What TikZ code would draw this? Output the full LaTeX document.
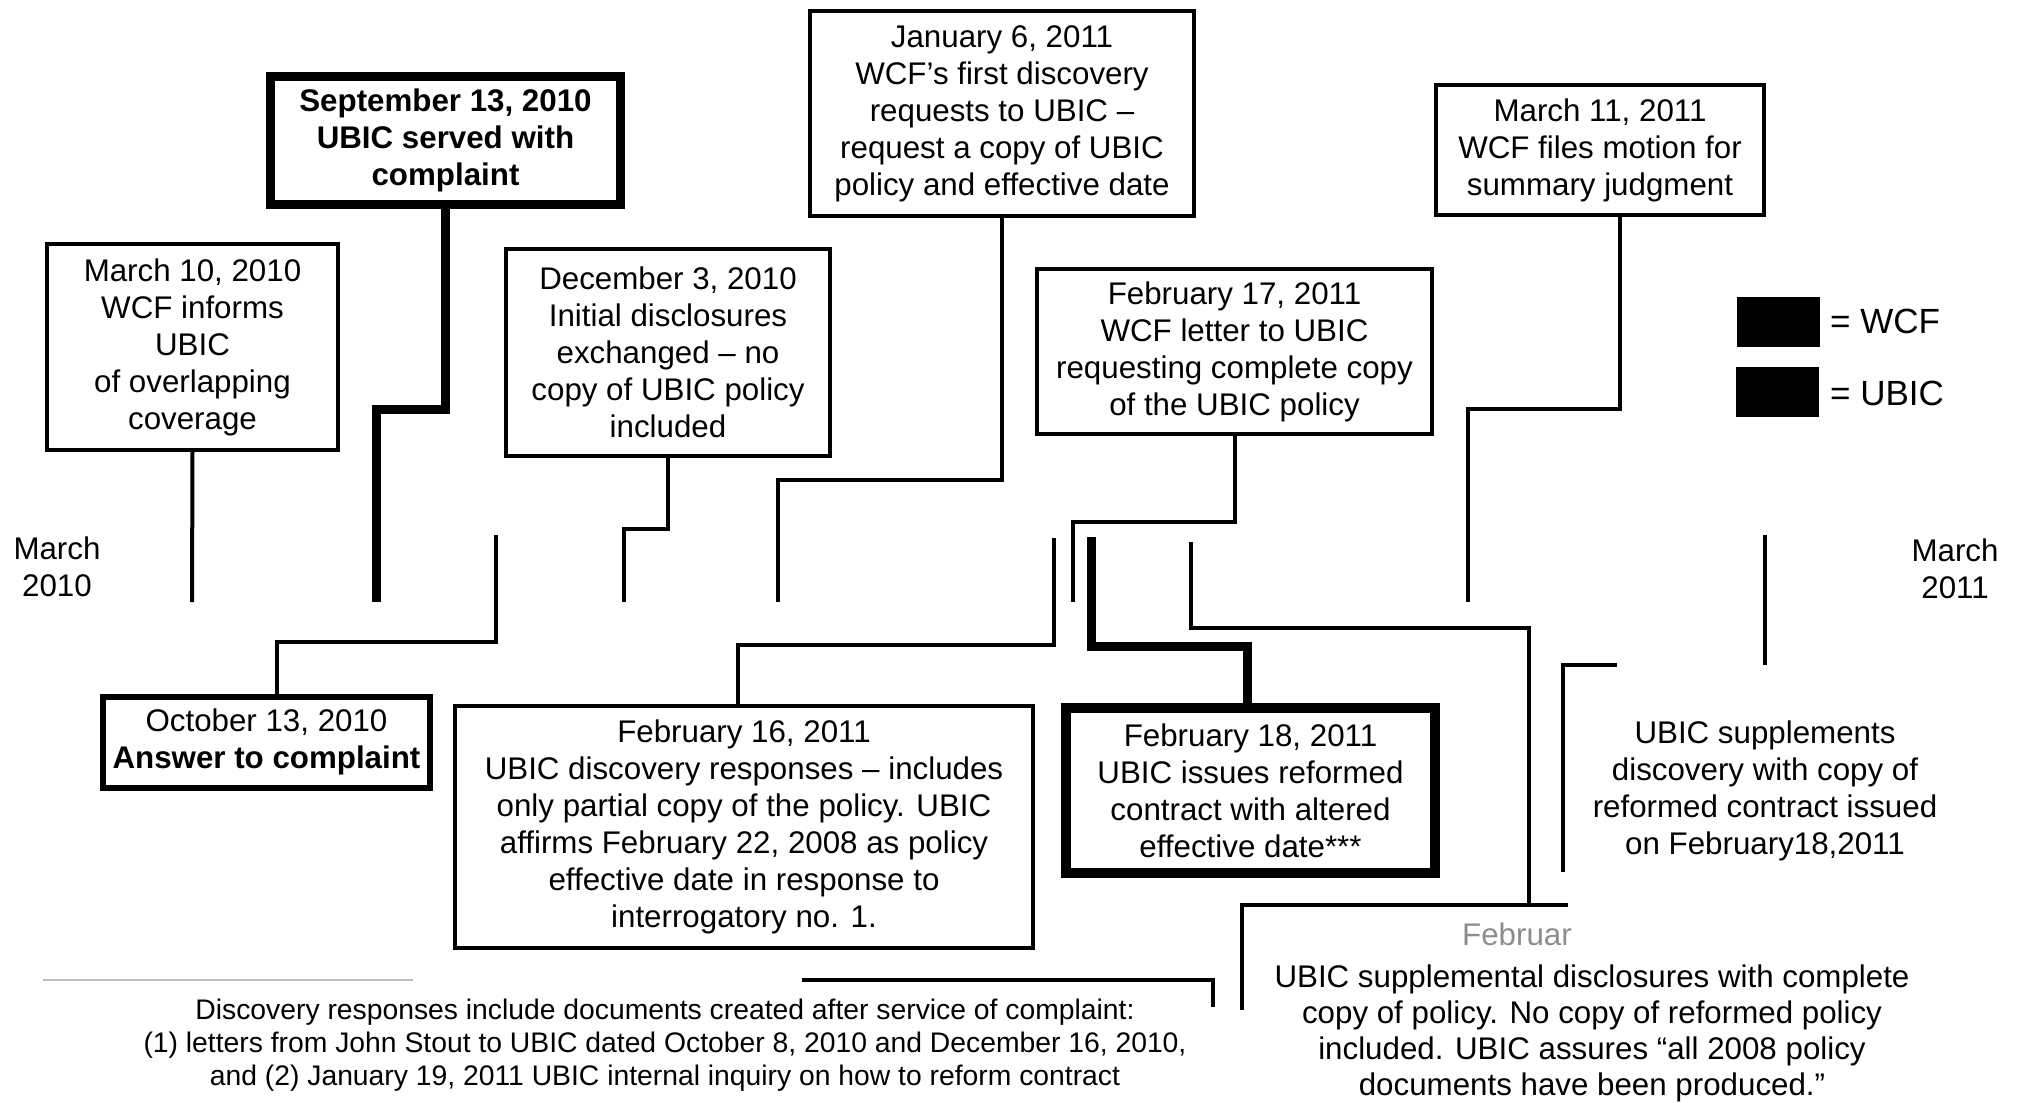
\documentclass[tikz,border=0pt]{standalone}
\usepackage{fontspec}
\setmainfont{Liberation Sans}
\begin{document}
\begin{tikzpicture}[x=1pt,y=-1pt,
  evt/.style={draw, line width=4pt, inner sep=0pt, align=center,
              font=\fontsize{31.3}{37}\selectfont},
  bigevt/.style={evt, line width=9pt},
  txt/.style={inner sep=0pt, align=center, font=\fontsize{31.3}{37}\selectfont},
  smalltxt/.style={inner sep=0pt, align=center, font=\fontsize{28.3}{33}\selectfont},
  conn/.style={line width=4pt},
  bigconn/.style={line width=9pt},
  legbox/.style={fill=black, inner sep=0pt, minimum width=83pt, minimum height=50pt},
  legtxt/.style={inner sep=0pt, anchor=west, font=\fontsize{35}{40}\selectfont}]
\useasboundingbox (0,0) rectangle (2022,1103);

% ---------- upper events ----------
\node[evt, minimum width=291pt, minimum height=206pt] (mar10) at (192.5,347)
  {March 10, 2010\\WCF informs\\UBIC\\of overlapping\\coverage};
\node[bigevt, minimum width=350pt, minimum height=128pt] (sep13) at (445.5,140.5)
  {\textbf{September 13, 2010}\\\textbf{UBIC served with}\\\textbf{complaint}};
\node[evt, minimum width=324pt, minimum height=207pt] (dec3) at (668,352.5)
  {December 3, 2010\\Initial disclosures\\exchanged -- no\\copy of UBIC policy\\included};
\node[evt, minimum width=384pt, minimum height=205pt] (jan6) at (1002,113.5)
  {January 6, 2011\\WCF’s first discovery\\requests to UBIC --\\request a copy of UBIC\\policy and effective date};
\node[evt, minimum width=395pt, minimum height=165pt] (feb17) at (1234.5,351.5)
  {February 17, 2011\\WCF letter to UBIC\\requesting complete copy\\of the UBIC policy};
\node[evt, minimum width=328pt, minimum height=130pt] (mar11) at (1600,150)
  {March 11, 2011\\WCF files motion for\\summary judgment};

% ---------- lower events ----------
\node[evt, line width=6pt, minimum width=327pt, minimum height=91pt] (oct13) at (266.5,742)
  {October 13, 2010\\\textbf{Answer to complaint}};
\node[evt, minimum width=578pt, minimum height=242pt] (feb16) at (744,827)
  {February 16, 2011\\UBIC discovery responses -- includes\\only partial copy of the policy. UBIC\\affirms February 22, 2008 as policy\\effective date in response to\\interrogatory no. 1.};
\node[evt, line width=10pt, minimum width=369pt, minimum height=165pt] (feb18) at (1250.5,790.5)
  {February 18, 2011\\UBIC issues reformed\\contract with altered\\effective date***};
\node[txt] (ubicsupp) at (1765,791)
  {UBIC supplements\\discovery with copy of\\reformed contract issued\\on February18,2011};
\node[txt, text=black!45] (suppdate) at (1517,934) {Februar};
\node[txt, font=\fontsize{31.3}{36}\selectfont] (supp) at (1592,1033)
  {UBIC supplemental disclosures with complete\\copy of policy. No copy of reformed policy\\included. UBIC assures “all 2008 policy\\documents have been produced.”};
\node[smalltxt] (disc) at (665,1045)
  {Discovery responses include documents created after service of complaint:\\(1) letters from John Stout to UBIC dated October 8, 2010 and December 16, 2010,\\and (2) January 19, 2011 UBIC internal inquiry on how to reform contract};

% ---------- period labels ----------
\node[txt] (m2010) at (57,567) {March\\2010};
\node[txt] (m2011) at (1955,569) {March\\2011};

% ---------- legend ----------
\node[legbox] (legw) at (1778.5,322) {};
\node[legtxt] (legwt) at (1830,321) {= WCF};
\node[legbox] (legu) at (1777.5,391.5) {};
\node[legtxt] (legut) at (1830,393) {= UBIC};

% ---------- timeline ends ----------
\coordinate (tA) at (192,602);
\coordinate (tB) at (376,602);
\coordinate (tC) at (624,602);
\coordinate (tD) at (778,602);
\coordinate (tE) at (1073,602);
\coordinate (tF) at (1468,602);
\coordinate (bA) at (496,535);
\coordinate (bB) at (1054,538);
\coordinate (bC) at (1091,537);
\coordinate (bD) at (1765,535);
\coordinate (bE) at (1191,542);
\coordinate (ubicTop) at (1765,665);
\coordinate (suppTop) at (1529,905);

% ---------- connectors ----------
\draw[conn] (mar10.south) -- (tA);
\draw[bigconn] (sep13.south) -- ++(0,200) -| (tB);
\draw[conn] (dec3.south) -- ++(0,71) -| (tC);
\draw[conn] (jan6.south) -- ++(0,262) -| (tD);
\draw[conn] (feb17.south) -- ++(0,86) -| (tE);
\draw[conn] ([xshift=20pt]mar11.south) -- ++(0,192) -| (tF);
\draw[conn] ([xshift=10pt]oct13.north) -- ++(0,-52) -| (bA);
\draw[conn] ([xshift=-6pt]feb16.north) -- ++(0,-59) -| (bB);
\draw[bigconn] ([xshift=-3pt]feb18.north) -- ++(0,-57) -| (bC);
\draw[conn] (bD) -- (ubicTop);
\draw[conn] (bE) -- ++(0,86) -| (suppTop);

% ---------- partial frames (as scanned) ----------
\draw[conn] (1563,872) -- (1563,665) -- (1617,665);
\draw[conn] (1242,1010) -- (1242,905) -- (1568,905);
\draw[conn] (802,980) -- (1213,980) -- (1213,1007);
\draw[line width=2pt, black!25] (43,980) -- (413,980);
\end{tikzpicture}
\end{document}
